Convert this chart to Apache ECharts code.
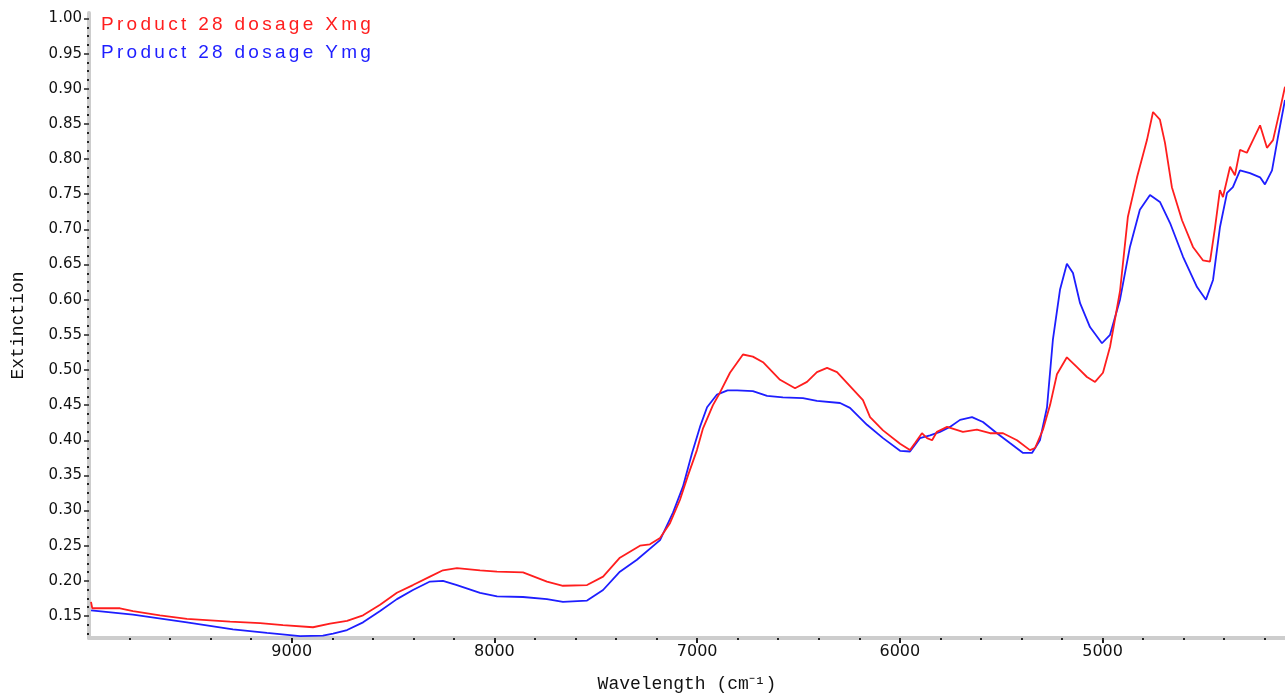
<!DOCTYPE html>
<html>
<head>
<meta charset="utf-8">
<title>Product 28 extinction spectra</title>
<script src="https://cdn.jsdelivr.net/npm/echarts@6/dist/echarts.min.js"></script>
<style>
  html, body { margin: 0; padding: 0; background: #ffffff; }
  #chart { width: 1285px; height: 693px; }
</style>
</head>
<body>
<div id="chart"></div>
<script>
// Series names
const seriesNames = ['Product 28 dosage Xmg', 'Product 28 dosage Ymg'];

// Product 28, dosage X mg: wavenumber (cm-1) and extinction
const xmgWavenumber = [9990, 9984, 9847, 9783, 9650, 9517, 9304, 9156, 9043, 8895, 8811, 8727, 8648, 8564, 8481, 8402, 8318, 8254, 8185, 8071, 7987, 7859, 7741, 7662, 7543, 7464, 7381, 7282, 7233, 7183, 7134, 7085, 7045, 7001, 6971, 6922, 6887, 6838, 6774, 6725, 6675, 6591, 6517, 6458, 6409, 6359, 6310, 6246, 6182, 6147, 6083, 5999, 5950, 5925, 5891, 5866, 5841, 5817, 5767, 5689, 5620, 5555, 5491, 5422, 5358, 5333, 5294, 5259, 5225, 5176, 5126, 5077, 5037, 4998, 4963, 4914, 4875, 4830, 4781, 4751, 4717, 4692, 4658, 4608, 4554, 4505, 4470, 4445, 4421, 4406, 4371, 4347, 4322, 4288, 4258, 4223, 4189, 4159, 4125, 4100];
const xmgExtinction = [0.170, 0.161, 0.161, 0.157, 0.151, 0.146, 0.142, 0.140, 0.137, 0.134, 0.139, 0.143, 0.151, 0.166, 0.183, 0.194, 0.206, 0.215, 0.218, 0.215, 0.213, 0.212, 0.199, 0.193, 0.194, 0.206, 0.233, 0.250, 0.252, 0.261, 0.282, 0.315, 0.350, 0.386, 0.417, 0.450, 0.468, 0.496, 0.522, 0.519, 0.511, 0.486, 0.474, 0.483, 0.497, 0.503, 0.497, 0.477, 0.457, 0.433, 0.414, 0.395, 0.386, 0.396, 0.410, 0.403, 0.400, 0.412, 0.419, 0.412, 0.415, 0.410, 0.410, 0.400, 0.386, 0.389, 0.415, 0.450, 0.494, 0.518, 0.504, 0.490, 0.483, 0.496, 0.533, 0.612, 0.718, 0.774, 0.827, 0.867, 0.856, 0.823, 0.760, 0.713, 0.675, 0.656, 0.654, 0.703, 0.756, 0.746, 0.789, 0.777, 0.813, 0.809, 0.827, 0.848, 0.816, 0.827, 0.870, 0.903];

// Product 28, dosage Y mg: wavenumber (cm-1) and extinction
const ymgWavenumber = [9990, 9783, 9517, 9290, 9122, 8959, 8846, 8796, 8727, 8648, 8564, 8481, 8402, 8318, 8254, 8185, 8071, 7987, 7859, 7741, 7662, 7543, 7464, 7381, 7297, 7183, 7119, 7070, 7025, 6986, 6951, 6902, 6850, 6803, 6725, 6655, 6577, 6478, 6409, 6295, 6246, 6162, 6083, 5999, 5950, 5901, 5851, 5802, 5753, 5703, 5644, 5590, 5521, 5457, 5392, 5348, 5309, 5274, 5245, 5210, 5176, 5146, 5111, 5062, 5003, 4963, 4914, 4865, 4816, 4766, 4717, 4667, 4603, 4534, 4490, 4455, 4421, 4386, 4357, 4322, 4273, 4223, 4199, 4164, 4135, 4100];
const ymgExtinction = [0.158, 0.152, 0.141, 0.131, 0.126, 0.1215, 0.122, 0.125, 0.130, 0.141, 0.157, 0.174, 0.187, 0.199, 0.200, 0.194, 0.183, 0.178, 0.177, 0.174, 0.170, 0.172, 0.187, 0.213, 0.230, 0.258, 0.297, 0.334, 0.382, 0.419, 0.447, 0.465, 0.471, 0.471, 0.470, 0.463, 0.461, 0.460, 0.456, 0.453, 0.446, 0.422, 0.403, 0.385, 0.384, 0.403, 0.407, 0.412, 0.419, 0.429, 0.433, 0.426, 0.410, 0.396, 0.382, 0.382, 0.400, 0.447, 0.543, 0.614, 0.651, 0.638, 0.595, 0.561, 0.538, 0.550, 0.600, 0.675, 0.728, 0.749, 0.739, 0.709, 0.661, 0.618, 0.600, 0.628, 0.703, 0.752, 0.760, 0.784, 0.780, 0.774, 0.764, 0.784, 0.831, 0.884];

// Labelled ticks
const xTickLabels = [9000, 8000, 7000, 6000, 5000];
const yTickLabels = [0.15, 0.20, 0.25, 0.30, 0.35, 0.40, 0.45, 0.50, 0.55, 0.60, 0.65, 0.70, 0.75, 0.80, 0.85, 0.90, 0.95, 1.00];

// Axis extents
const xMin = 4100, xMax = 10000;
const yMin = 0.1187, yMax = 1.0078;

// Minor tick positions: every 200 cm-1 and every 0.0125 extinction
const xMinor = [];
for (let w = 4200; w < xMax; w += 200) {
  if (w % 1000 !== 0) xMinor.push(w);
}
const yMinor = [];
for (let k = 10; k <= 80; k++) {
  if (k % 4 !== 0) yMinor.push(+(k * 0.0125).toFixed(4));
}

const colors = ['#ff1e1e', '#1e1eff'];
const richKeys = ['x', 'y'];

function zip(xs, ys) {
  return xs.map((x, i) => [x, ys[i]]);
}

const bandColor = '#cdcdcd';
const tickColor = '#222222';

const chart = echarts.init(document.getElementById('chart'), null, { renderer: 'canvas' });

chart.setOption({
  animation: false,
  backgroundColor: '#ffffff',
  grid: { left: 89, right: 0, top: 13, bottom: 55, containLabel: false, outerBoundsMode: 'none' },
  legend: {
    orient: 'vertical',
    left: 91,
    top: 10,
    icon: 'none',
    itemWidth: 0,
    itemHeight: 0,
    itemGap: 9,
    selectedMode: false,
    data: seriesNames,
    formatter: function (name) {
      const key = richKeys[seriesNames.indexOf(name)];
      return name.split('').map(ch => '{' + key + '|' + ch + '}').join('');
    },
    textStyle: {
      fontFamily: 'Liberation Sans',
      fontSize: 19,
      rich: {
        x: { color: colors[0], fontFamily: 'Liberation Sans', fontSize: 19, lineHeight: 22, padding: [0, 3.3, 0, 0] },
        y: { color: colors[1], fontFamily: 'Liberation Sans', fontSize: 19, lineHeight: 22, padding: [0, 3.3, 0, 0] }
      }
    }
  },
  xAxis: [
    {
      type: 'value',
      inverse: true,
      min: xMin,
      max: xMax,
      name: 'Wavelength (cm⁻¹)',
      nameLocation: 'middle',
      nameGap: 37,
      nameTextStyle: { fontFamily: 'Liberation Mono', fontSize: 18, color: '#111111' },
      axisLine: { show: true, onZero: false, lineStyle: { color: bandColor, width: 4 } },
      axisTick: { show: true, customValues: xTickLabels, length: 5, lineStyle: { color: tickColor, width: 2 } },
      axisLabel: {
        customValues: xTickLabels,
        margin: 6,
        fontFamily: 'DejaVu Sans',
        fontSize: 16,
        color: '#111111',
        formatter: v => String(Math.round(v))
      },
      splitLine: { show: false }
    },
    {
      type: 'value',
      inverse: true,
      min: xMin,
      max: xMax,
      position: 'bottom',
      axisLine: { show: false, onZero: false },
      axisTick: { show: true, customValues: xMinor, length: 2, lineStyle: { color: tickColor, width: 2 } },
      axisLabel: { show: false },
      splitLine: { show: false }
    }
  ],
  yAxis: [
    {
      type: 'value',
      min: yMin,
      max: yMax,
      name: 'Extinction',
      nameLocation: 'middle',
      nameGap: 62,
      nameRotate: 90,
      nameTextStyle: { fontFamily: 'Liberation Mono', fontSize: 18, color: '#111111' },
      axisLine: { show: true, onZero: false, lineStyle: { color: bandColor, width: 4 } },
      axisTick: { show: true, customValues: yTickLabels, length: 5, lineStyle: { color: tickColor, width: 1.5 } },
      axisLabel: {
        customValues: yTickLabels,
        margin: 7,
        fontFamily: 'DejaVu Sans',
        fontSize: 15,
        color: '#111111',
        formatter: v => v.toFixed(2)
      },
      splitLine: { show: false }
    },
    {
      type: 'value',
      min: yMin,
      max: yMax,
      position: 'left',
      axisLine: { show: false, onZero: false },
      axisTick: { show: true, customValues: yMinor, length: 2, lineStyle: { color: tickColor, width: 2 } },
      axisLabel: { show: false },
      splitLine: { show: false }
    }
  ],
  series: [
    {
      name: seriesNames[0],
      type: 'line',
      data: zip(xmgWavenumber, xmgExtinction),
      showSymbol: false,
      smooth: false,
      clip: true,
      lineStyle: { color: colors[0], width: 1.8 },
      itemStyle: { color: colors[0] },
      z: 3
    },
    {
      name: seriesNames[1],
      type: 'line',
      data: zip(ymgWavenumber, ymgExtinction),
      showSymbol: false,
      smooth: false,
      clip: true,
      lineStyle: { color: colors[1], width: 1.8 },
      itemStyle: { color: colors[1] },
      z: 2
    }
  ]
});
</script>
</body>
</html>
